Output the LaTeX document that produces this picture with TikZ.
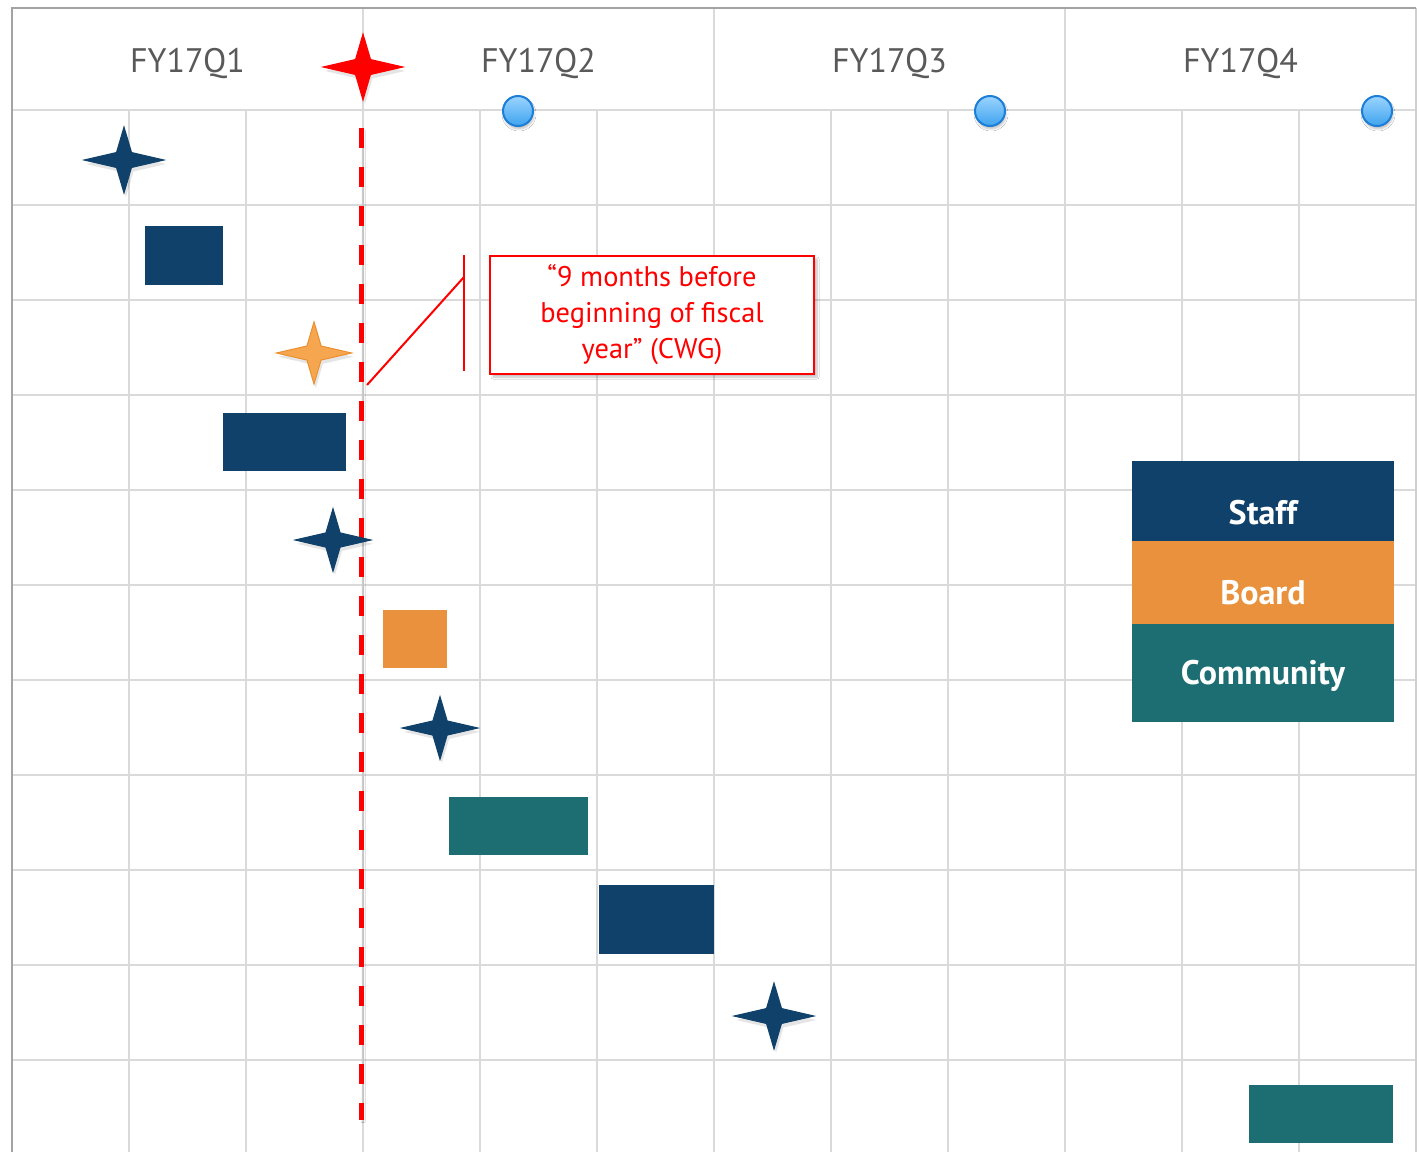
\documentclass[tikz,border=0pt]{standalone}
\usepackage{fontspec}
\setmainfont{PT Sans}
\usetikzlibrary{shadows.blur}
\definecolor{navy}{HTML}{0F416B}
\definecolor{orng}{HTML}{E9913C}
\definecolor{teal2}{HTML}{1D6E73}
\definecolor{gridc}{HTML}{DADADA}
\definecolor{bordc}{HTML}{A3A3A3}
\definecolor{headc}{HTML}{595959}
\definecolor{redc}{HTML}{FF0000}
\definecolor{starorng}{HTML}{F7A650}
\definecolor{starorngd}{HTML}{EB8F2E}
\definecolor{dotlight}{HTML}{9AD4FF}
\definecolor{dotdark}{HTML}{3FA3EE}
\definecolor{dotedge}{HTML}{1C7ED6}
\tikzset{
  gridline/.style={draw=gridc, line width=2.5pt},
  borderline/.style={draw=bordc, line width=2.5pt},
  header/.style={text=headc, font=\fontsize{34}{40}\selectfont, inner sep=0pt},
  bar/.style={fill=#1, draw=none, inner sep=0pt, outer sep=0pt},
  legbox/.style={fill=#1, draw=none, inner sep=0pt, minimum width=262pt},
  legtext/.style={text=white, font=\bfseries\fontsize{34}{40}\selectfont, inner sep=0pt},
  qdot/.style={circle, minimum size=30pt, inner sep=0pt, draw=dotedge, line width=2pt,
     top color=dotlight, bottom color=dotdark, blur shadow={shadow blur steps=6, shadow xshift=1pt, shadow yshift=-3pt, shadow opacity=25}},
  pics/fstar/.style n args={3}{code={
     \path[fill=black, opacity=0.10, scale=#3, shift={(2,4)}]
       (0,-33) -- (7.5,-7.5) -- (40,0) -- (7.5,7.5) -- (0,33)
       -- (-7.5,7.5) -- (-40,0) -- (-7.5,-7.5) -- cycle;
     \path[fill=#1, draw=#2, line width=1pt, line join=miter, scale=#3]
       (0,-33) -- (7.5,-7.5) -- (40,0) -- (7.5,7.5) -- (0,33)
       -- (-7.5,7.5) -- (-40,0) -- (-7.5,-7.5) -- cycle;}},
}
\begin{document}
\begin{tikzpicture}[x=1pt,y=-1pt]
\useasboundingbox (0,0) rectangle (1420,1152);
\fill[white] (0,0) rectangle (1420,1152);
% grid
\foreach \y in {110,205,...,1060} \draw[gridline] (12,\y) -- (1416,\y);
\foreach \x in {129,246,480,597,831,948,1182,1299} \draw[gridline] (\x,110) -- (\x,1152);
\foreach \x in {363,714,1065} \draw[gridline] (\x,8) -- (\x,1152);
\draw[draw=gridc!80!bordc, line width=2.5pt] (1416,8) -- (1416,1152);
\draw[borderline] (12,1152) -- (12,8) -- (1416,8);
% headers
\node[header] (q1) at (187.5,64) {FY17Q1};
\node[header] (q2) at (538.5,64) {FY17Q2};
\node[header] (q3) at (889.5,64) {FY17Q3};
\node[header] (q4) at (1240.5,64) {FY17Q4};
% quarter-end dots
\node[qdot] (d2) at (518,111) {};
\node[qdot] (d3) at (990,111) {};
\node[qdot] (d4) at (1377,111) {};
% dashed today line
\coordinate (lt) at (361,128);
\coordinate (lb) at (361,1120);
\draw[draw=redc, line width=5pt, dash pattern=on 20pt off 19pt,
  blur shadow={shadow blur steps=5, shadow xshift=2pt, shadow yshift=-2pt, shadow opacity=20}] (lt) -- (lb);
% stars
\pic at (363,67) {fstar={redc}{redc}{1}};
\pic at (124,160) {fstar={navy}{navy}{1}};
\pic at (314,353) {fstar={starorng}{starorngd}{0.94}};
\pic at (333,540) {fstar={navy}{navy}{0.95}};
\pic at (440,728) {fstar={navy}{navy}{0.95}};
\pic at (774,1016) {fstar={navy}{navy}{1}};
% bars
\node[bar=navy, minimum width=78pt, minimum height=59pt] (s1) at (184,255.5) {};
\node[bar=navy, minimum width=123pt, minimum height=58pt] (s2) at (284.5,442) {};
\node[bar=orng, minimum width=64pt, minimum height=58pt] (b1) at (415,639) {};
\node[bar=teal2, minimum width=139pt, minimum height=58pt] (c1) at (518.5,826) {};
\node[bar=navy, minimum width=115pt, minimum height=69pt] (s3) at (656.5,919.5) {};
\node[bar=teal2, minimum width=144pt, minimum height=58pt] (c2) at (1321,1114) {};
% legend
\node[legbox=navy, minimum height=80pt] (lstaff) at (1263,501) {};
\node[legbox=orng, minimum height=83pt] (lboard) at (1263,582.5) {};
\node[legbox=teal2, minimum height=98pt] (lcomm) at (1263,673) {};
\node[legtext] (tstaff) at (1263,513) {Staff};
\node[legtext] (tboard) at (1263,593) {Board};
\node[legtext] (tcomm) at (1263,676) {Community};
% callout
\node[draw=redc, line width=2pt, fill=white, minimum width=324pt, minimum height=118pt,
  align=center, text=redc, font=\fontsize{28.4}{36}\selectfont, inner sep=0pt,
  blur shadow={shadow blur steps=6, shadow xshift=3pt, shadow yshift=-3pt, shadow opacity=25}]
  (callout) at (652,315) {“9 months before\\beginning of fiscal\\year” (CWG)};
\coordinate (kt) at (464,255);
\coordinate (kb) at (464,371);
\coordinate (kj) at (464,277);
\coordinate (ke) at (367,385);
\draw[redc, line width=2pt] (kt) -- (kb);
\draw[redc, line width=2pt] (kj) -- (ke);
\end{tikzpicture}
\end{document}
